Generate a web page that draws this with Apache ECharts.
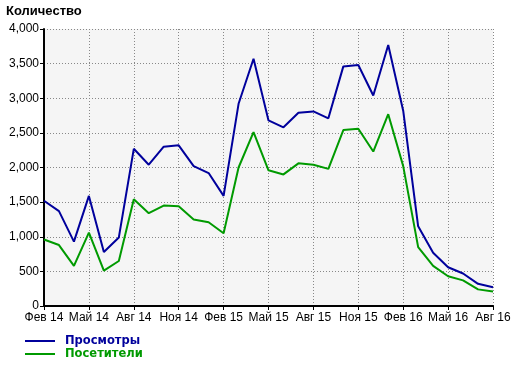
<!DOCTYPE html>
<html>
<head>
<meta charset="utf-8">
<script src="https://cdn.jsdelivr.net/npm/echarts@6/dist/echarts.min.js"></script>
<style>html,body{margin:0;padding:0;background:#fff}#c{width:520px;height:366px}</style>
</head>
<body>
<div id="c"></div>
<script>
const categories = ['Фев 14','Мар 14','Апр 14','Май 14','Июн 14','Июл 14','Авг 14','Сен 14','Окт 14','Ноя 14','Дек 14','Янв 15',
  'Фев 15','Мар 15','Апр 15','Май 15','Июн 15','Июл 15','Авг 15','Сен 15','Окт 15','Ноя 15','Дек 15','Янв 16',
  'Фев 16','Мар 16','Апр 16','Май 16','Июн 16','Июл 16','Авг 16'];
const views = [1520,1370,930,1590,780,990,2270,2040,2300,2320,2020,1920,
  1590,2920,3570,2680,2580,2790,2810,2710,3460,3480,3040,3770,
  2820,1150,770,560,470,320,270];
const visitors = [960,880,580,1060,510,650,1540,1340,1450,1440,1250,1210,
  1050,2000,2510,1960,1900,2060,2040,1980,2540,2560,2230,2770,
  2020,850,580,430,370,240,210];
const yTicks = {min: 0, max: 4000, interval: 500};

const BLUE = '#00009c', GREEN = '#009a00';
const chart = echarts.init(document.getElementById('c'));
const fmt = v => String(v).replace(/\B(?=(\d{3})+(?!\d))/g, ',');
const legText = {fontFamily: 'DejaVu Sans', fontWeight: 'bold', fontSize: 11.5, padding: [0,0,0,5]};
chart.setOption({
  animation: false,
  title: {text: 'Количество', left: 6, top: 5, padding: 0, textStyle: {fontFamily: 'Liberation Sans', fontWeight: 'bold', fontSize: 13, color: '#000'}},
  legend: [
    {left: 25, top: 335, padding: 0, itemWidth: 30, itemHeight: 2, icon: 'rect', selectedMode: false,
     data: [{name: 'Просмотры', textStyle: {color: BLUE}}], textStyle: legText},
    {left: 25, top: 348, padding: 0, itemWidth: 30, itemHeight: 2, icon: 'rect', selectedMode: false,
     data: [{name: 'Посетители', textStyle: {color: GREEN}}], textStyle: legText}
  ],
  grid: {left: 44, right: 27, top: 29, bottom: 60, show: true, backgroundColor: '#f5f5f5', borderWidth: 0},
  xAxis: {
    type: 'category', data: categories, boundaryGap: false,
    axisLine: {lineStyle: {color: '#000', width: 2}},
    axisTick: {interval: 2, length: 4, lineStyle: {color: '#000', width: 1}},
    axisLabel: {interval: 2, color: '#000', fontFamily: 'Liberation Sans', fontSize: 12, margin: 6},
    splitLine: {show: true, interval: 2, lineStyle: {color: '#888', type: [1, 2], width: 1}}
  },
  yAxis: {
    type: 'value', min: yTicks.min, max: yTicks.max, interval: yTicks.interval,
    axisLine: {show: true, lineStyle: {color: '#000', width: 2}},
    axisTick: {show: true, length: 4, lineStyle: {color: '#000', width: 1}},
    axisLabel: {color: '#000', fontFamily: 'Liberation Sans', fontSize: 12, margin: 5, formatter: fmt},
    splitLine: {show: true, lineStyle: {color: '#888', type: [1, 2], width: 1}}
  },
  series: [
    {name: 'Просмотры', type: 'line', data: views, symbol: 'none', lineStyle: {color: BLUE, width: 2}, itemStyle: {color: BLUE}},
    {name: 'Посетители', type: 'line', data: visitors, symbol: 'none', lineStyle: {color: GREEN, width: 2}, itemStyle: {color: GREEN}}
  ]
});
</script>
</body>
</html>
